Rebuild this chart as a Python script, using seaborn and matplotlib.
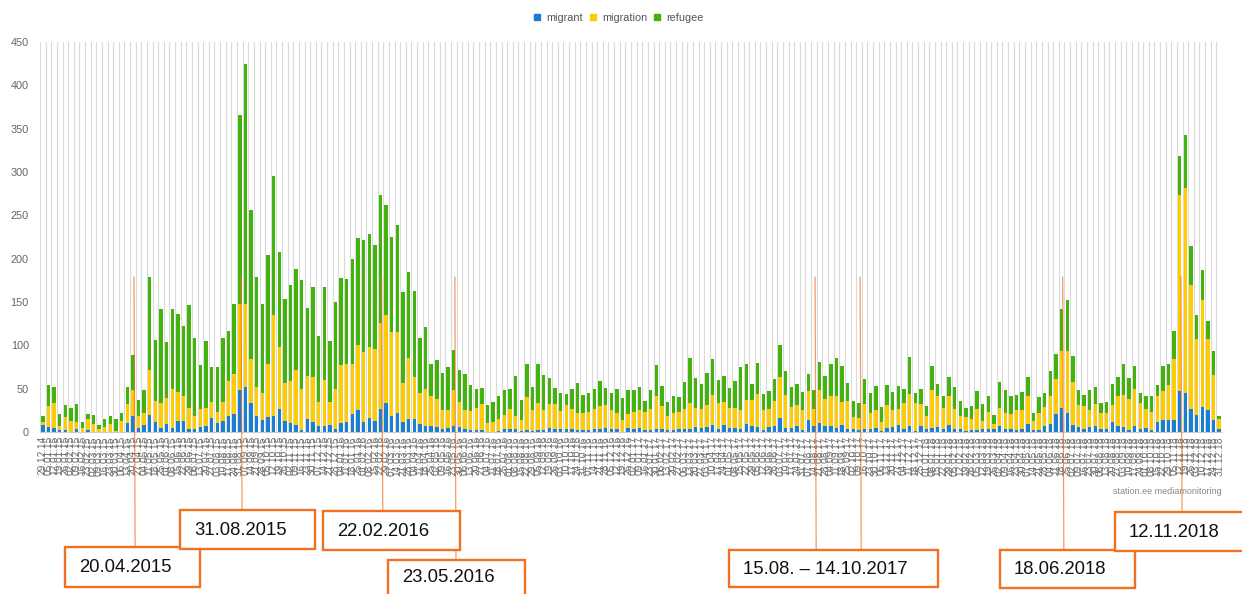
import pandas as pd
import numpy as np
import matplotlib
matplotlib.use("Agg")
import matplotlib.pyplot as plt
import seaborn as sns
from matplotlib.patches import Patch, Rectangle
from matplotlib import transforms

# === DATA (weekly mentions, week starting Monday) ===
weeks = pd.date_range("2014-12-29", periods=210, freq="W-MON")
week_labels = [d.strftime("%d.%m.%y") for d in weeks]

migrant = [
    8, 6, 5, 2, 2, 0, 3, 0, 2, 0,
    0, 0, 0, 0, 0, 10, 18, 5, 8, 20,
    12, 5, 9, 5, 13, 13, 3, 3, 6, 7,
    16, 10, 13, 19, 21, 48, 52, 34, 18, 14,
    17, 18, 26, 13, 10, 8, 2, 15, 12, 7,
    7, 8, 3, 10, 11, 21, 25, 11, 16, 13,
    26, 34, 18, 22, 11, 15, 15, 9, 7, 7,
    6, 3, 5, 7, 6, 3, 2, 2, 2, 0,
    0, 1, 3, 3, 3, 1, 2, 1, 2, 2,
    5, 4, 3, 3, 4, 2, 2, 2, 3, 3,
    5, 3, 3, 0, 5, 3, 5, 2, 2, 3,
    3, 2, 2, 4, 4, 3, 6, 5, 6, 8,
    4, 8, 5, 5, 4, 9, 7, 6, 2, 6,
    7, 16, 5, 5, 7, 2, 14, 7, 10, 7,
    7, 5, 8, 4, 3, 2, 3, 3, 5, 1,
    5, 6, 8, 3, 7, 1, 7, 3, 5, 6,
    4, 8, 3, 3, 1, 2, 2, 3, 3, 3,
    7, 4, 3, 2, 4, 9, 2, 2, 7, 9,
    21, 28, 22, 8, 6, 4, 6, 7, 4, 4,
    11, 7, 6, 2, 7, 4, 5, 2, 11, 14,
    14, 14, 47, 45, 27, 20, 29, 25, 14, 4,
]

migration = [
    3, 24, 28, 5, 15, 13, 9, 5, 13, 9,
    3, 6, 9, 1, 13, 22, 30, 14, 14, 52,
    24, 29, 30, 45, 33, 29, 25, 16, 20, 21,
    19, 13, 22, 40, 46, 100, 96, 50, 34, 31,
    61, 117, 72, 43, 49, 64, 48, 50, 51, 28,
    53, 27, 47, 67, 67, 58, 75, 81, 82, 83,
    100, 101, 97, 93, 45, 70, 48, 36, 43, 35,
    32, 22, 20, 42, 29, 22, 22, 26, 30, 10,
    12, 14, 17, 24, 16, 13, 38, 24, 31, 23,
    27, 28, 21, 28, 23, 20, 20, 21, 23, 27,
    26, 22, 19, 14, 16, 20, 20, 21, 25, 39,
    27, 16, 20, 19, 23, 31, 22, 22, 25, 35,
    29, 27, 23, 23, 21, 28, 30, 38, 23, 20,
    29, 47, 38, 24, 24, 23, 33, 19, 38, 31,
    34, 37, 27, 32, 14, 14, 29, 19, 20, 11,
    26, 19, 19, 30, 37, 32, 25, 15, 43, 36,
    24, 33, 24, 15, 16, 13, 25, 10, 20, 6,
    21, 18, 18, 23, 21, 33, 11, 20, 22, 33,
    40, 65, 71, 50, 25, 26, 19, 25, 18, 18,
    20, 34, 37, 36, 43, 30, 21, 21, 31, 33,
    40, 70, 227, 237, 143, 87, 123, 82, 52, 11,
]

refugee = [
    8, 24, 19, 14, 14, 15, 20, 6, 6, 11,
    5, 9, 10, 14, 9, 20, 41, 18, 26, 107,
    70, 108, 65, 92, 90, 80, 119, 89, 51, 77,
    40, 52, 73, 58, 81, 218, 277, 172, 127, 103,
    126, 160, 110, 98, 111, 116, 125, 78, 104, 76,
    107, 70, 100, 101, 98, 121, 124, 130, 131, 120,
    147, 127, 110, 124, 105, 100, 100, 63, 71, 36,
    45, 43, 50, 46, 37, 42, 30, 22, 19, 21,
    23, 27, 28, 23, 46, 23, 39, 27, 45, 41,
    30, 19, 21, 13, 23, 34, 21, 22, 24, 29,
    20, 20, 28, 25, 28, 25, 27, 13, 22, 35,
    23, 17, 20, 17, 31, 51, 34, 28, 37, 41,
    27, 30, 23, 31, 50, 41, 18, 36, 19, 21,
    25, 37, 27, 23, 24, 21, 20, 22, 33, 27,
    37, 43, 41, 21, 19, 18, 29, 23, 28, 17,
    23, 21, 26, 17, 43, 12, 18, 12, 28, 13,
    14, 22, 25, 18, 11, 15, 20, 19, 19, 11,
    30, 26, 20, 18, 21, 22, 9, 18, 16, 28,
    29, 49, 59, 30, 18, 13, 23, 20, 11, 13,
    24, 22, 35, 24, 26, 11, 16, 18, 12, 29,
    25, 33, 44, 61, 45, 28, 35, 21, 27, 3,
]

series_names = ["migrant", "migration", "refugee"]

# annotated events: label, week indices the pointer lines go to
note_labels = ["20.04.2015", "31.08.2015", "22.02.2016", "23.05.2016",
               "15.08. \u2013 14.10.2017", "18.06.2018", "12.11.2018"]
note_weeks = [[16], [35], [60], [73], [137, 145], [181], [202]]

# === STYLE ===
BLUE = "#1a7fd3"
YELLOW = "#ffcc00"
GREEN = "#41b30c"
ORANGE = "#f37021"
W, H = 1242, 594

sns.set_style("white")
plt.rcParams["font.family"] = ["Liberation Sans", "DejaVu Sans"]

fig = plt.figure(figsize=(W / 100, H / 100), dpi=100)
ax = fig.add_axes([40 / W, 1 - 432 / H, (1222 - 40) / W, (432 - 42) / H])

df = pd.DataFrame({"week": week_labels, "migrant": migrant,
                   "migration": migration, "refugee": refugee})
df["migrant_migration"] = df["migrant"] + df["migration"]
df["total"] = df["migrant_migration"] + df["refugee"]

# stacked bars by overlaying cumulative totals
for col, colr in [("total", GREEN), ("migrant_migration", YELLOW), ("migrant", BLUE)]:
    sns.barplot(data=df, x="week", y=col, color=colr, width=0.6, saturation=1,
                errorbar=None, ax=ax, zorder=2, linewidth=0, antialiased=False)

ax.set_xlabel("")
ax.set_ylabel("")
ax.set_ylim(0, 450)
ax.set_yticks(range(0, 451, 50))
ax.set_xlim(-0.5, len(week_labels) - 0.5)
ax.set_xticks(np.arange(-0.5, len(week_labels), 1), minor=True)
ax.grid(which="minor", axis="x", color="#d9d9d9", lw=0.8)
ax.grid(which="major", axis="both", visible=False)
ax.set_axisbelow(True)

ax.tick_params(axis="x", which="major", labelrotation=90, labelsize=7.3,
               length=0, labelcolor="#707070", pad=3)
ax.tick_params(axis="x", which="minor", length=0)
ax.tick_params(axis="y", length=0, labelsize=7.8, labelcolor="#666666", pad=8)
for s in ["top", "right", "left"]:
    ax.spines[s].set_visible(False)
ax.spines["bottom"].set_color("#cccccc")

# legend at top
handles = [Patch(color=c) for c in [BLUE, YELLOW, GREEN]]
fig.legend(handles, series_names, loc="center", bbox_to_anchor=(619 / W, 1 - 18 / H),
           ncol=3, frameon=False, fontsize=7.8, handlelength=0.55, handleheight=0.55,
           handletextpad=0.6, columnspacing=0.6, labelcolor="#555555")

fig.text(1222 / W, 1 - 492 / H, "station.ee mediamonitoring", ha="right", va="center",
         fontsize=6.5, color="#888888")

# === ANNOTATION BOXES ===
ov = fig.add_axes([0, 0, 1, 1])
ov.set_xlim(0, W)
ov.set_ylim(H, 0)
ov.axis("off")
ov.set_zorder(3)
ov.patch.set_visible(False)

boxes = [(65, 547, 200, 587), (180, 510, 315, 549), (323, 511, 460, 550),
         (388, 560, 525, 600), (729, 550, 938, 587), (1000, 550, 1135, 588),
         (1115, 512, 1245, 551)]
line_top = 277
blend = transforms.blended_transform_factory(ax.transData, ov.transData)

for label, idxs, (x0, y0, x1, y1) in zip(note_labels, note_weeks, boxes):
    for i in idxs:
        ov.plot([i + 0.2, i + 0.4], [line_top, y0], transform=blend, color=ORANGE,
                lw=0.9, alpha=0.7, clip_on=False, zorder=1)
    ov.add_patch(Rectangle((x0, y0), x1 - x0, y1 - y0, facecolor="white",
                           edgecolor=ORANGE, lw=1.7, clip_on=False, zorder=2))
    ov.text(x0 + 14, (y0 + min(y1, 594)) / 2 + 1, label, ha="left", va="center",
            fontsize=13.3, color="#111111", zorder=3)

fig.savefig("out.png", dpi=100)
